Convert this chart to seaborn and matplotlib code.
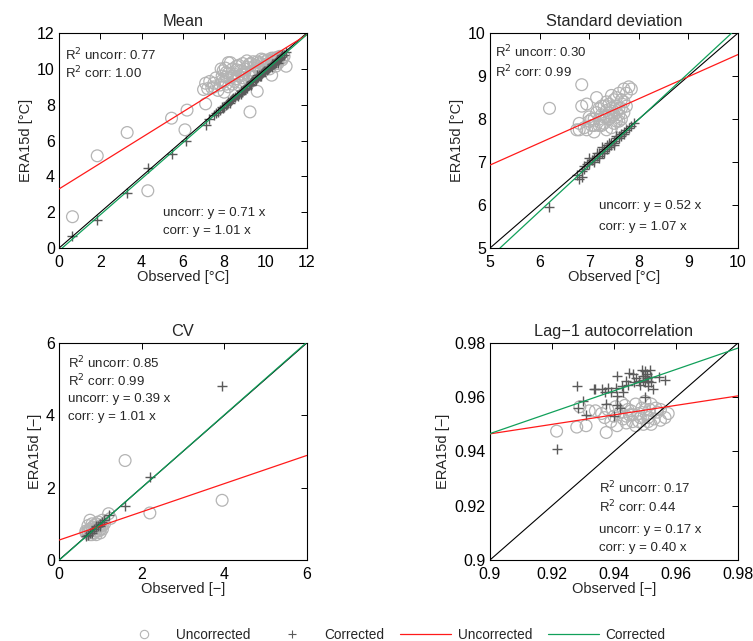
import numpy as np
import pandas as pd
import matplotlib
matplotlib.use("Agg")
import matplotlib.pyplot as plt
import seaborn as sns
from matplotlib.lines import Line2D

# ---- data ----
titles = ["Mean", "Standard deviation", "CV", "Lag\u22121 autocorrelation"]
xlabels = ["Observed [\u00b0C]", "Observed [\u00b0C]", "Observed [\u2212]", "Observed [\u2212]"]
ylabels = ["ERA15d [\u00b0C]", "ERA15d [\u00b0C]", "ERA15d [\u2212]", "ERA15d [\u2212]"]
limits = [(0, 12), (5, 10), (0, 6), (0.9, 0.98)]
ticks = [
    [0, 2, 4, 6, 8, 10, 12],
    [5, 6, 7, 8, 9, 10],
    [0, 2, 4, 6],
    [0.9, 0.92, 0.94, 0.96, 0.98],
]

r2_uncorr = ["0.77", "0.30", "0.85", "0.17"]
r2_corr = ["1.00", "0.99", "0.99", "0.44"]
slope_txt_uncorr = ["0.71", "0.52", "0.39", "0.17"]
slope_txt_corr = ["1.01", "1.07", "1.01", "0.40"]

# fitted lines as drawn (intercept, slope)
fit_uncorr = [(3.30, 0.717), (4.36, 0.514), (0.55, 0.39), (0.789, 0.175)]
fit_corr = [(-0.15, 1.005), (-0.565, 1.07), (-0.01, 1.005), (0.592, 0.394)]

mean_unc_obs = [0.65, 1.85, 3.3, 4.3, 5.45, 6.1, 6.2, 7.1, 9.25, 9.6, 10.3, 11.0,
                7.0, 7.1, 7.3, 7.5, 7.6, 7.4, 7.8, 7.9, 8.0, 8.1, 8.2, 8.3, 8.4, 8.5,
                8.5, 8.6, 8.7, 8.8, 8.9, 8.9, 9.0, 9.1, 9.2, 9.3, 9.4, 9.5, 9.6, 9.7,
                9.8, 9.9, 10.0, 10.1, 10.2, 10.3, 10.4, 10.5, 10.6, 10.7, 10.8, 10.9,
                8.0, 8.7, 9.0, 9.4, 9.8, 10.2, 8.3, 9.1, 7.7, 8.6, 10.5, 10.6, 7.85, 8.2,
                7.2, 7.5, 7.9, 8.1, 8.2, 8.4, 8.6, 8.8, 9.0, 9.2, 9.3, 9.5, 9.6, 9.7,
                9.9, 10.0, 10.1, 10.3, 10.4, 10.6, 10.8, 8.9, 8.4, 8.1, 7.95, 8.05, 8.7,
                9.4, 9.8]
mean_unc_era = [1.75, 5.15, 6.45, 3.2, 7.25, 6.6, 7.7, 8.05, 7.6, 8.75, 9.65, 10.15,
                8.85, 9.2, 9.3, 9.2, 9.5, 8.95, 9.1, 9.6, 9.3, 9.8, 9.0, 9.5, 10.0, 9.3,
                9.7, 10.15, 9.6, 9.9, 10.3, 9.5, 9.8, 10.1, 9.6, 10.3, 9.9, 10.2, 10.4, 10.0,
                10.3, 10.5, 10.2, 10.5, 10.3, 10.6, 10.4, 10.6, 10.5, 10.7, 10.6, 10.7,
                8.7, 9.1, 9.3, 9.6, 9.9, 10.0, 10.35, 10.45, 8.8, 9.95, 10.15, 10.3, 10.0, 10.35,
                8.9, 9.0, 9.35, 9.55, 9.75, 9.15, 9.45, 9.25, 10.0, 10.25, 9.75, 9.85, 10.15,
                10.35, 10.1, 10.4, 10.25, 10.45, 10.6, 10.65, 10.5, 9.65, 9.6, 9.15, 9.9,
                10.05, 10.2, 10.4, 10.55]

mean_cor_obs = [0.65, 1.85, 3.3, 4.3, 5.45, 6.15, 7.1, 7.25, 7.5, 7.6, 7.8, 7.9, 8.0,
                8.1, 8.2, 8.3, 8.4, 8.5, 8.6, 8.7, 8.8, 8.9, 9.0, 9.1, 9.2, 9.3, 9.4,
                9.5, 9.6, 9.7, 9.8, 9.9, 10.0, 10.1, 10.2, 10.3, 10.4, 10.5, 10.6, 10.7,
                10.8, 11.0, 8.3, 8.8, 9.3, 9.8, 10.3, 10.6, 9.6, 9.1,
                7.7, 7.95, 8.15, 8.35, 8.45, 8.65, 8.85, 8.95, 9.05, 9.25, 9.35, 9.55,
                9.65, 9.75, 9.85, 9.95, 10.05, 10.15, 10.25, 10.35, 10.45, 10.55, 10.65,
                10.75, 10.9]
mean_cor_era = [0.65, 1.55, 3.1, 4.45, 5.25, 6.0, 6.85, 7.2, 7.45, 7.55, 7.7, 7.85, 7.9,
                8.0, 8.15, 8.2, 8.3, 8.45, 8.55, 8.6, 8.75, 8.8, 8.9, 9.05, 9.1, 9.25, 9.3,
                9.45, 9.5, 9.65, 9.7, 9.85, 9.9, 10.0, 10.1, 10.25, 10.3, 10.4, 10.5, 10.6,
                10.75, 10.95, 8.1, 8.6, 9.1, 9.6, 10.1, 10.35, 9.65, 8.95,
                7.6, 7.8, 8.05, 8.25, 8.4, 8.5, 8.7, 8.85, 8.95, 9.15, 9.3, 9.4, 9.55,
                9.6, 9.75, 9.9, 9.95, 10.05, 10.15, 10.3, 10.35, 10.5, 10.55, 10.65, 10.8]

std_unc_obs = [6.2, 6.85, 6.75, 6.8, 6.85, 6.95, 6.9, 7.0, 7.05, 7.1, 7.1, 7.15, 7.2,
               7.25, 7.3, 7.3, 7.35, 7.4, 7.4, 7.45, 7.5, 7.5, 7.55, 7.6, 7.6, 7.65,
               7.7, 7.7, 7.75, 7.8, 7.85, 7.65, 7.55, 7.25, 7.0, 7.2, 7.45, 6.95, 7.35, 7.6,
               7.05, 7.15, 7.3, 7.35, 7.4, 7.45, 7.5, 7.55, 7.6, 7.65, 7.7, 7.75, 7.2,
               7.1, 7.45, 7.55, 7.35, 7.25, 6.8, 7.65]
std_unc_era = [8.25, 8.8, 7.75, 7.9, 8.3, 8.35, 7.8, 7.95, 8.0, 7.7, 8.0, 8.5, 7.85,
               8.1, 8.3, 7.9, 8.2, 8.0, 8.35, 7.8, 8.1, 8.45, 7.95, 8.25, 8.6, 8.0,
               8.4, 8.7, 8.6, 8.75, 8.7, 7.8, 8.3, 8.3, 8.05, 8.25, 8.55, 7.75, 7.75, 8.1,
               7.85, 8.15, 8.05, 8.4, 8.15, 8.25, 7.9, 8.15, 7.95, 8.45, 8.15, 8.3, 8.0,
               7.85, 8.05, 8.5, 8.05, 7.85, 7.75, 8.25]

std_cor_obs = [6.2, 6.8, 6.85, 6.75, 6.85, 6.9, 6.95, 7.0, 7.05, 7.1, 7.15, 7.2, 7.25,
               7.3, 7.35, 7.4, 7.45, 7.5, 7.55, 7.6, 7.65, 7.7, 7.75, 7.85, 7.9, 7.0,
               7.2, 7.3, 7.4, 7.5, 7.55, 7.1, 7.25,
               6.9, 7.0, 7.1, 7.2, 7.3, 7.4, 7.5, 7.6, 7.7, 7.8, 7.15, 7.35, 7.45, 7.65]
std_cor_era = [5.95, 6.6, 6.65, 6.7, 6.8, 6.9, 6.95, 7.0, 7.05, 7.1, 7.15, 7.2, 7.2,
               7.3, 7.3, 7.4, 7.45, 7.5, 7.55, 7.55, 7.65, 7.7, 7.75, 7.85, 7.9, 7.1,
               7.1, 7.2, 7.45, 7.4, 7.6, 7.0, 7.35,
               6.85, 6.95, 7.05, 7.15, 7.25, 7.35, 7.45, 7.6, 7.65, 7.8, 7.2, 7.4, 7.4, 7.6]

cv_unc_obs = [0.65, 0.7, 0.75, 0.8, 0.85, 0.9, 0.95, 1.0, 1.05, 1.1, 0.7, 0.8, 0.9,
              1.0, 0.85, 0.95, 1.05, 0.75, 1.6, 2.2, 3.95, 1.25, 1.2,
              0.7, 0.75, 0.8, 0.85, 0.9, 0.95, 1.0, 0.75, 0.65, 0.9, 1.05, 0.8]
cv_unc_era = [0.75, 0.8, 0.7, 0.85, 0.75, 0.9, 0.8, 0.95, 0.85, 1.0, 0.95, 1.0, 0.7,
              0.75, 0.95, 1.05, 1.1, 1.1, 2.75, 1.3, 1.65, 1.15, 1.28,
              0.75, 0.85, 0.7, 0.85, 0.8, 0.9, 0.85, 0.8, 0.8, 1.0, 0.95, 0.9]

cv_cor_obs = [0.65, 0.7, 0.75, 0.8, 0.85, 0.9, 0.95, 1.0, 1.05, 1.1, 1.2, 1.6, 2.2,
              3.95, 0.8, 0.9, 1.0]
cv_cor_era = [0.65, 0.7, 0.75, 0.8, 0.85, 0.9, 0.95, 1.0, 1.05, 1.1, 1.25, 1.48, 2.3,
              4.82, 0.75, 0.95, 0.95]

lag_unc_obs = [0.9215, 0.928, 0.931, 0.929, 0.932, 0.934, 0.936, 0.937, 0.9375, 0.938,
               0.939, 0.94, 0.9405, 0.941, 0.942, 0.943, 0.9435, 0.944, 0.945, 0.9455,
               0.946, 0.947, 0.947, 0.948, 0.9485, 0.949, 0.9495, 0.95, 0.9505, 0.951,
               0.9515, 0.952, 0.953, 0.954, 0.955, 0.9565, 0.9575, 0.952, 0.9445, 0.9425,
               0.95, 0.951, 0.948, 0.946, 0.944, 0.9535, 0.955]
lag_unc_era = [0.9475, 0.949, 0.9495, 0.9565, 0.955, 0.955, 0.954, 0.9525, 0.947, 0.9555,
               0.951, 0.953, 0.9565, 0.9495, 0.9545, 0.952, 0.957, 0.9505, 0.9535, 0.955,
               0.951, 0.9575, 0.9495, 0.954, 0.9525, 0.956, 0.95, 0.9585, 0.9535, 0.951,
               0.9555, 0.9575, 0.952, 0.9545, 0.9515, 0.9525, 0.954, 0.95, 0.9555, 0.958,
               0.9555, 0.9525, 0.951, 0.9535, 0.953, 0.956, 0.9555]

lag_cor_obs = [0.9215, 0.928, 0.9285, 0.93, 0.931, 0.9335, 0.934, 0.936, 0.937, 0.9375,
               0.938, 0.939, 0.94, 0.9405, 0.941, 0.941, 0.942, 0.9425, 0.943, 0.944,
               0.9445, 0.945, 0.946, 0.9465, 0.947, 0.948, 0.949, 0.9495, 0.95, 0.95,
               0.9505, 0.951, 0.9515, 0.952, 0.9525, 0.9545, 0.9565, 0.95, 0.9485, 0.941,
               0.95, 0.951, 0.9495, 0.952, 0.9505]
lag_cor_era = [0.941, 0.964, 0.956, 0.9585, 0.9535, 0.963, 0.963, 0.963, 0.962, 0.9575,
               0.9635, 0.962, 0.953, 0.9635, 0.968, 0.9605, 0.956, 0.964, 0.962, 0.966,
               0.9645, 0.969, 0.9685, 0.9655, 0.967, 0.966, 0.97, 0.968, 0.9695, 0.9655,
               0.967, 0.964, 0.97, 0.9675, 0.963, 0.9675, 0.9665, 0.96, 0.9645, 0.957,
               0.968, 0.966, 0.9665, 0.9655, 0.9685]

unc_points = [(mean_unc_obs, mean_unc_era), (std_unc_obs, std_unc_era),
              (cv_unc_obs, cv_unc_era), (lag_unc_obs, lag_unc_era)]
cor_points = [(mean_cor_obs, mean_cor_era), (std_cor_obs, std_cor_era),
              (cv_cor_obs, cv_cor_era), (lag_cor_obs, lag_cor_era)]

sns.set_style("white")
plt.rcParams["font.family"] = ["Liberation Sans", "DejaVu Sans"]

GREY_CIRCLE = "#b4b4b4"
GREY_PLUS = "#5a5a5a"
RED = "#ff1a1a"
GREEN = "#11a05a"

fig = plt.figure(figsize=(7.53, 6.41), dpi=100)
positions = [
    [0.0784, 0.613, 0.329, 0.3354],
    [0.6507, 0.613, 0.3293, 0.3354],
    [0.0784, 0.1264, 0.329, 0.3385],
    [0.6507, 0.1264, 0.3293, 0.3385],
]

# text placement (axes fraction)
r2_pos = [(0.025, 0.90, 0.815), (0.02, 0.91, 0.82), (0.035, 0.91, 0.825), (0.44, 0.33, 0.245)]
eq_pos = [(0.42, 0.163, 0.08), (0.44, 0.195, 0.10), (0.035, 0.74, 0.66), (0.44, 0.14, 0.055)]

for i in range(4):
    ax = fig.add_axes(positions[i])
    lo, hi = limits[i]
    unc = pd.DataFrame({"obs": unc_points[i][0], "era": unc_points[i][1]})
    cor = pd.DataFrame({"obs": cor_points[i][0], "era": cor_points[i][1]})

    sns.scatterplot(data=unc, x="obs", y="era", ax=ax, marker="o", s=72,
                    facecolors="none", edgecolor=GREY_CIRCLE, linewidth=0.9, zorder=2)
    sns.scatterplot(data=cor, x="obs", y="era", ax=ax, marker="+", s=60,
                    color=GREY_PLUS, linewidth=1.0, zorder=3)

    ax.axline((lo, lo), slope=1, color="black", lw=0.8, zorder=4)
    a, b = fit_uncorr[i]
    ax.axline((0, a), slope=b, color=RED, lw=0.9, zorder=4)
    a, b = fit_corr[i]
    ax.axline((0, a), slope=b, color=GREEN, lw=0.9, zorder=4)

    ax.set_xlim(lo, hi)
    ax.set_ylim(lo, hi)
    ax.set_xticks(ticks[i])
    ax.set_yticks(ticks[i])
    ax.set_xticklabels([f"{t:g}" for t in ticks[i]])
    ax.set_yticklabels([f"{t:g}" for t in ticks[i]])
    ax.tick_params(direction="in", top=True, right=True, length=4, width=0.7,
                   labelsize=11.5, colors="black", pad=3)
    ax.tick_params(axis="x", pad=5)
    for sp in ax.spines.values():
        sp.set_color("black")
        sp.set_linewidth(0.8)
    ax.set_title(titles[i], fontsize=11.8, pad=5)
    ax.set_xlabel(xlabels[i], fontsize=10.5, labelpad=0)
    ax.set_ylabel(ylabels[i], fontsize=10.5, labelpad=3)

    x0, y1, y2 = r2_pos[i]
    ax.text(x0, y1, f"R$^2$ uncorr: {r2_uncorr[i]}", transform=ax.transAxes,
            fontsize=9.5, va="center")
    ax.text(x0, y2, f"R$^2$ corr: {r2_corr[i]}", transform=ax.transAxes,
            fontsize=9.5, va="center")
    x0, y1, y2 = eq_pos[i]
    ax.text(x0, y1, f"uncorr: y = {slope_txt_uncorr[i]} x", transform=ax.transAxes,
            fontsize=9.5, va="center")
    ax.text(x0, y2, f"corr: y = {slope_txt_corr[i]} x", transform=ax.transAxes,
            fontsize=9.5, va="center")

handles = [
    Line2D([], [], ls="none", marker="o", mfc="none", mec=GREY_CIRCLE, ms=6, mew=0.8),
    Line2D([], [], ls="none", marker="+", color=GREY_PLUS, ms=6, mew=0.8),
    Line2D([], [], color=RED, lw=0.9),
    Line2D([], [], color=GREEN, lw=0.9),
]
labels = ["Uncorrected", "Corrected", "Uncorrected", "Corrected"]
fig.legend(handles, labels, loc="lower center", bbox_to_anchor=(0.521, -0.02), ncol=4,
           frameon=False, fontsize=9.8, handlelength=3.7, handletextpad=0.5,
           columnspacing=1.2)

fig.savefig("out.png", dpi=100)
